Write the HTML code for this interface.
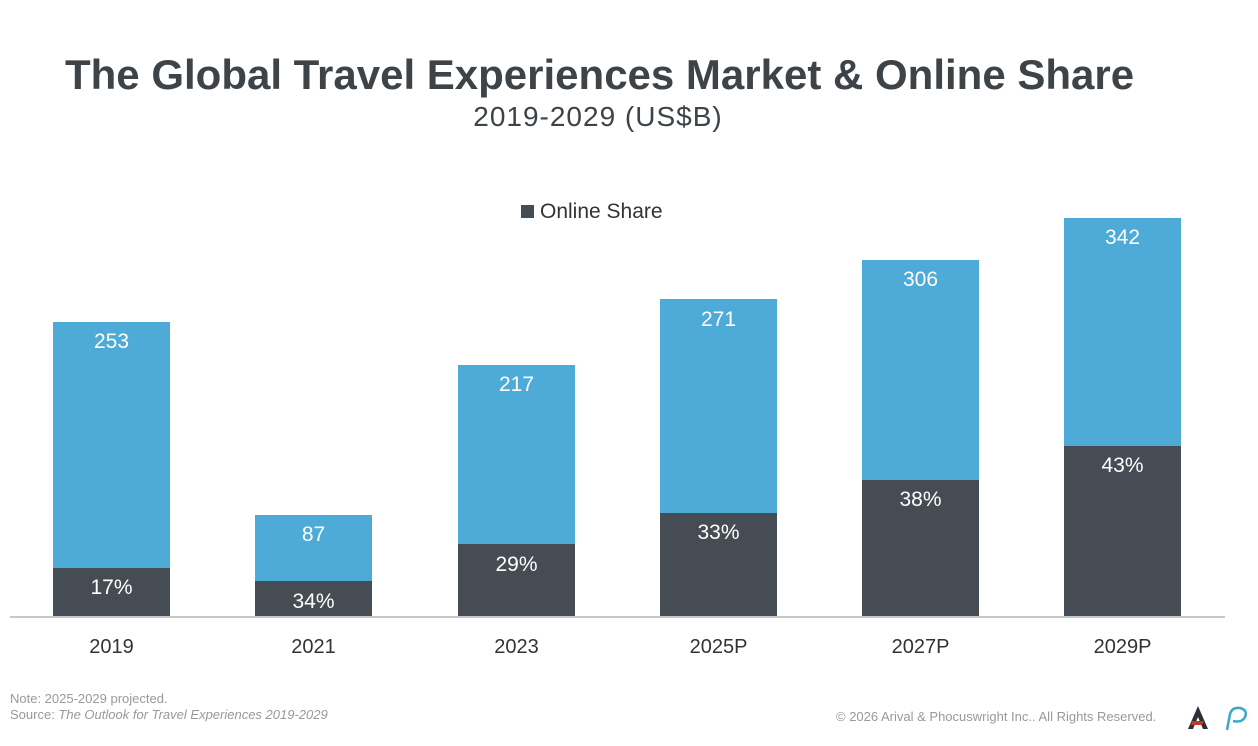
<!DOCTYPE html>
<html><head><meta charset="utf-8"><style>
body{margin:0;width:1258px;height:746px;background:#fff;overflow:hidden;font-family:"Liberation Sans",sans-serif;position:relative}
.t{position:absolute;white-space:nowrap}
.b{position:absolute;width:117px;background:#4eabd7}
.d{position:absolute;width:117px;background:#464c53}
.v{position:absolute;width:117px;text-align:center;color:#fff;font-size:21px}
.x{position:absolute;width:117px;text-align:center;color:#333;font-size:20px;top:636px}
</style></head><body>
<div class="t" style="left:65px;top:51px;font-size:42px;font-weight:bold;color:#3d4347">The Global Travel Experiences Market &amp; Online Share</div>
<div class="t" style="left:0;width:1196px;text-align:center;top:101px;font-size:28px;letter-spacing:1px;color:#3d4347">2019-2029 (US$B)</div>
<div class="t" style="left:521px;top:200px;font-size:21px;color:#333"><span style="display:inline-block;width:13px;height:13px;background:#464c53;margin-right:6px"></span>Online Share</div>
<div style="position:absolute;left:10px;top:616px;width:1215px;height:2px;background:#c8c8c8"></div>

<div class="b" style="left:53px;top:322px;height:246px"></div><div class="d" style="left:53px;top:568px;height:48px"></div>
<div class="v" style="left:53px;top:330px">253</div><div class="v" style="left:53px;top:576px">17%</div><div class="x" style="left:53px">2019</div>

<div class="b" style="left:255px;top:515px;height:66px"></div><div class="d" style="left:255px;top:581px;height:35px"></div>
<div class="v" style="left:255px;top:523px">87</div><div class="v" style="left:255px;top:590px">34%</div><div class="x" style="left:255px">2021</div>

<div class="b" style="left:458px;top:365px;height:179px"></div><div class="d" style="left:458px;top:544px;height:72px"></div>
<div class="v" style="left:458px;top:373px">217</div><div class="v" style="left:458px;top:553px">29%</div><div class="x" style="left:458px">2023</div>

<div class="b" style="left:660px;top:299px;height:214px"></div><div class="d" style="left:660px;top:513px;height:103px"></div>
<div class="v" style="left:660px;top:308px">271</div><div class="v" style="left:660px;top:521px">33%</div><div class="x" style="left:660px">2025P</div>

<div class="b" style="left:862px;top:260px;height:220px"></div><div class="d" style="left:862px;top:480px;height:136px"></div>
<div class="v" style="left:862px;top:268px">306</div><div class="v" style="left:862px;top:488px">38%</div><div class="x" style="left:862px">2027P</div>

<div class="b" style="left:1064px;top:218px;height:228px"></div><div class="d" style="left:1064px;top:446px;height:170px"></div>
<div class="v" style="left:1064px;top:226px">342</div><div class="v" style="left:1064px;top:454px">43%</div><div class="x" style="left:1064px">2029P</div>

<div class="t" style="left:10px;top:691px;font-size:13px;color:#999">Note: 2025-2029 projected.</div>
<div class="t" style="left:10px;top:707px;font-size:13px;color:#999">Source: <i>The Outlook for Travel Experiences 2019-2029</i></div>
<div class="t" style="left:836px;top:709px;font-size:13px;color:#999">© 2026 Arival &amp; Phocuswright Inc.. All Rights Reserved.</div>
<svg style="position:absolute;left:1185px;top:703px" width="70" height="30">
<path d="M3 26 L13 3 L23 26 L18 26 L13 14 L8 26Z" fill="#2a3035"/><path d="M7 18 L19 18 L17 22 L6 22Z" fill="#c0392b"/>
<path d="M42 27 L45 11 Q47 4 55 5 Q63 7 60 14 Q57 20 48 18" fill="none" stroke="#3aa8c8" stroke-width="2.5"/>
</svg>
</body></html>
